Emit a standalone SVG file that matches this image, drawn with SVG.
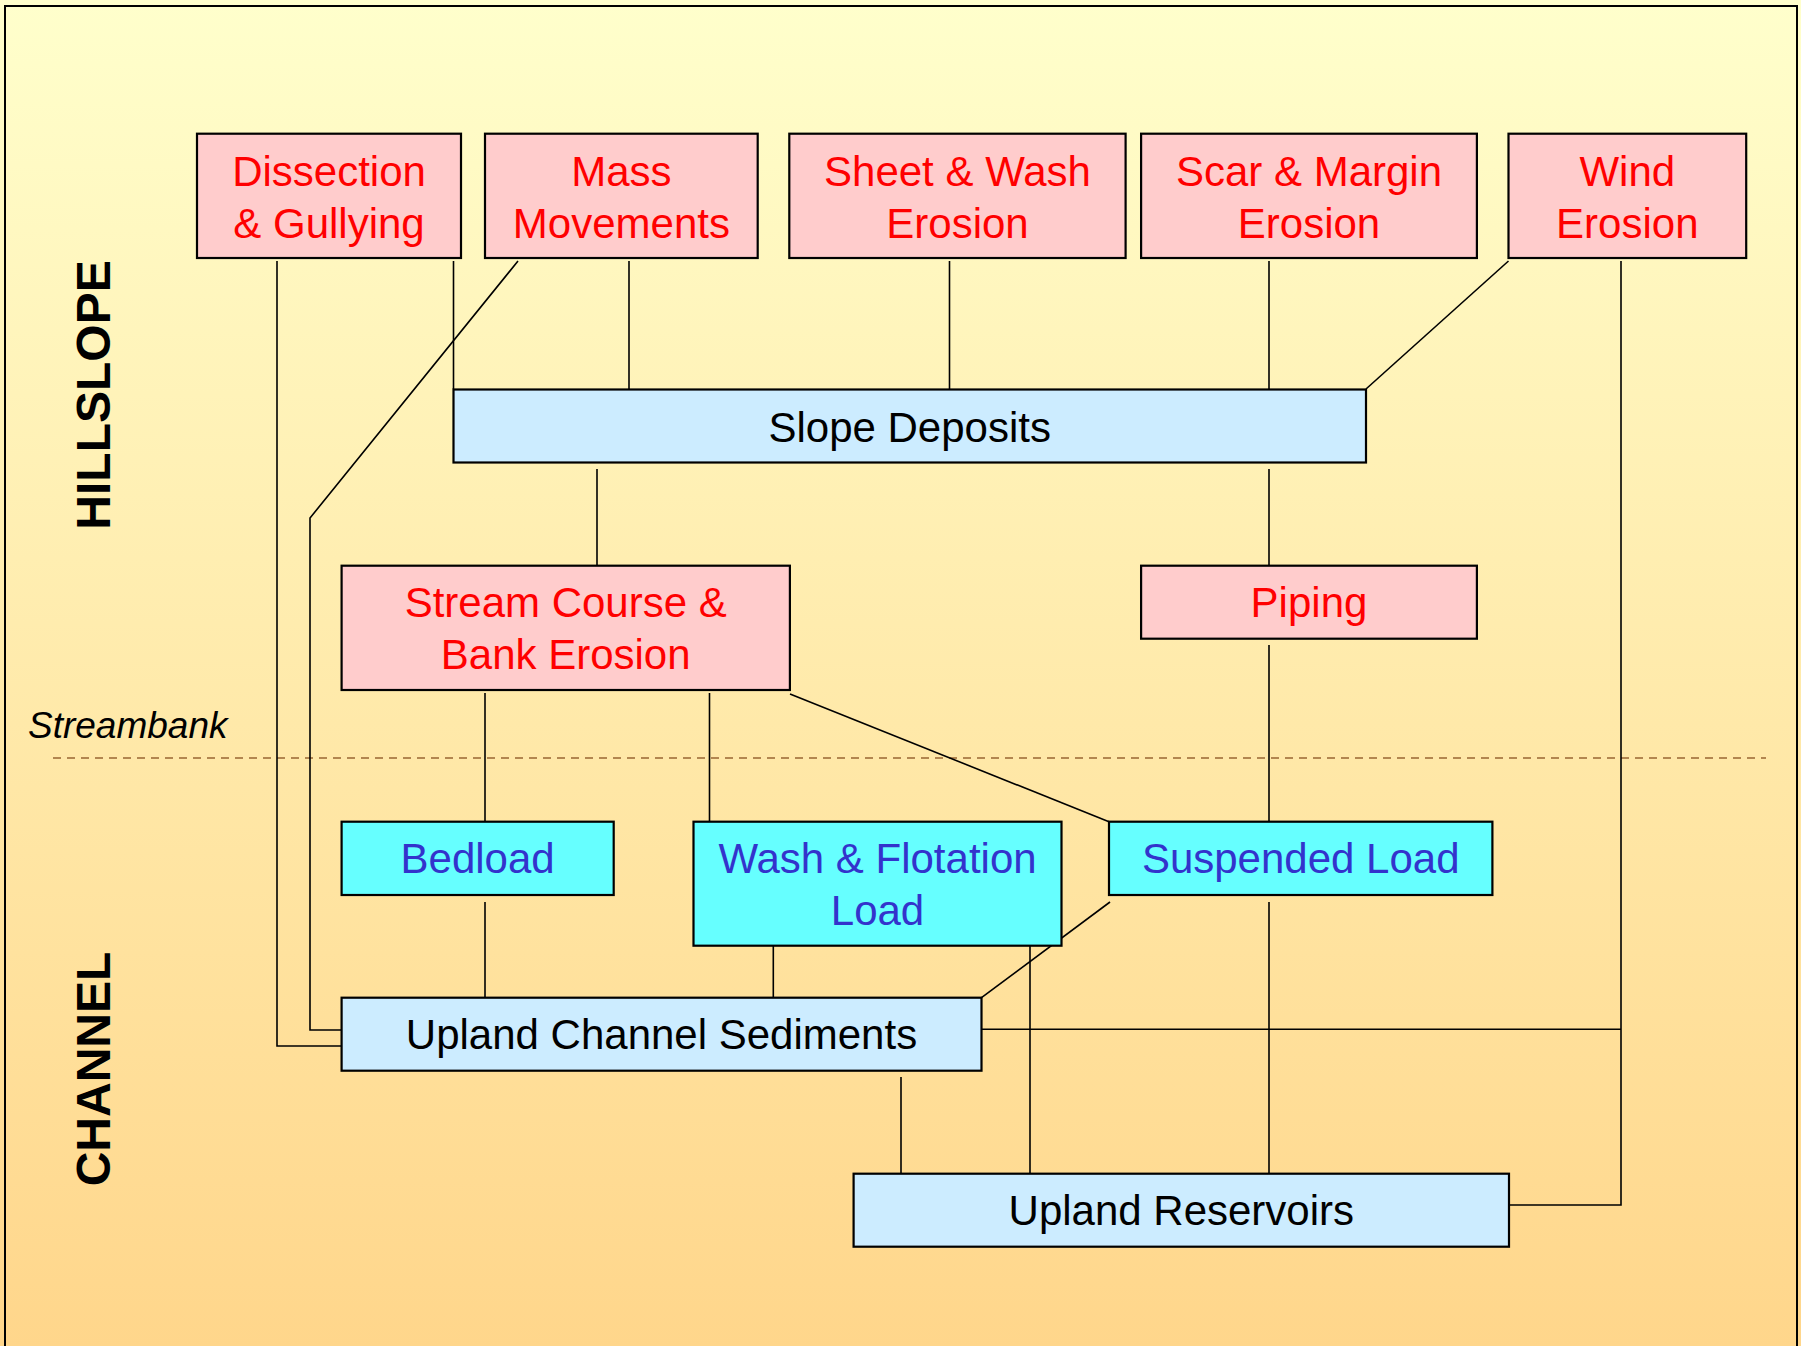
<svg xmlns="http://www.w3.org/2000/svg" width="1801" height="1346" viewBox="0 0 1801 1346">
<defs>
<linearGradient id="bg" x1="0" y1="0" x2="0" y2="1">
<stop offset="0" stop-color="#FFFFCC"/>
<stop offset="1" stop-color="#FFD68B"/>
</linearGradient>
</defs>
<style>
.box{stroke:#000;stroke-width:2.2}
.pink{fill:#FFCCCC}
.lblue{fill:#CCECFF}
.cyan{fill:#66FFFF}
.t{font-family:"Liberation Sans",Arial,sans-serif;font-size:42px;text-anchor:middle}
.red{fill:#FF0000}
.blk{fill:#000}
.blu{fill:#3333CC}
.side{font-family:"Liberation Sans",Arial,sans-serif;font-size:48px;font-weight:bold;text-anchor:middle;fill:#000}
#connectors path{fill:none;stroke:#000;stroke-width:1.6}
</style>
<rect x="0" y="0" width="1801" height="1346" fill="url(#bg)"/>
<rect x="5" y="6" width="1792" height="1360" fill="none" stroke="#000" stroke-width="2"/>

<g id="labels">
<text class="side" transform="translate(110,395) rotate(-90)">HILLSLOPE</text>
<text class="side" transform="translate(110,1069) rotate(-90)">CHANNEL</text>
<text x="28" y="738" font-family="'Liberation Sans',Arial,sans-serif" font-size="37" font-style="italic" fill="#000">Streambank</text>
<line x1="53" y1="758" x2="1766" y2="758" stroke="#996633" stroke-width="1.6" stroke-dasharray="8,6"/>
</g>

<g id="connectors">
<path d="M277,261 V1046 H341.6"/>
<path d="M453.5,261 V389"/>
<path d="M518,261 L310,518 V1030 H341.6"/>
<path d="M629,261 V389"/>
<path d="M949.5,261 V389"/>
<path d="M1269,261 V389"/>
<path d="M1508.5,261 L1366,389"/>
<path d="M1621,261 V1205 H1509"/>
<path d="M981.5,1029.3 H1621"/>
<path d="M597,469 V565.7"/>
<path d="M1269,469 V565.7"/>
<path d="M485,693 V821.7"/>
<path d="M709.5,693 V821.7"/>
<path d="M790,694 L1109,821.7"/>
<path d="M1269,645 V821.7"/>
<path d="M485,902 V997.7"/>
<path d="M773.3,945.7 V997.7"/>
<path d="M1030,945.7 V1173.7"/>
<path d="M1110,902 L981.5,997.7"/>
<path d="M1269,902 V1173.7"/>
<path d="M901,1077 V1173.7"/>
</g>

<g id="dissection">
<rect class="box pink" x="197" y="133.7" width="264" height="124.3"/>
<text class="t red" x="329" y="185.5">Dissection</text>
<text class="t red" x="329" y="237.7">&amp; Gullying</text>
</g>
<g id="mass">
<rect class="box pink" x="485" y="133.7" width="272.7" height="124.3"/>
<text class="t red" x="621.4" y="185.5">Mass</text>
<text class="t red" x="621.4" y="237.7">Movements</text>
</g>
<g id="sheet">
<rect class="box pink" x="789.3" y="133.7" width="336.3" height="124.3"/>
<text class="t red" x="957.5" y="185.5">Sheet &amp; Wash</text>
<text class="t red" x="957.5" y="237.7">Erosion</text>
</g>
<g id="scar">
<rect class="box pink" x="1141.1" y="133.7" width="335.8" height="124.3"/>
<text class="t red" x="1309" y="185.5">Scar &amp; Margin</text>
<text class="t red" x="1309" y="237.7">Erosion</text>
</g>
<g id="wind">
<rect class="box pink" x="1508.5" y="133.7" width="237.7" height="124.3"/>
<text class="t red" x="1627.3" y="185.5">Wind</text>
<text class="t red" x="1627.3" y="237.7">Erosion</text>
</g>
<g id="slope">
<rect class="box lblue" x="453.5" y="389.5" width="912.5" height="73"/>
<text class="t blk" x="909.7" y="441.7">Slope Deposits</text>
</g>
<g id="stream">
<rect class="box pink" x="341.6" y="565.7" width="448.3" height="124.3"/>
<text class="t red" x="565.7" y="617.3">Stream Course &amp;</text>
<text class="t red" x="565.7" y="669.3">Bank Erosion</text>
</g>
<g id="piping">
<rect class="box pink" x="1141.1" y="565.7" width="335.8" height="73"/>
<text class="t red" x="1309" y="617.3">Piping</text>
</g>
<g id="bedload">
<rect class="box cyan" x="341.6" y="821.7" width="272.1" height="73.3"/>
<text class="t blu" x="477.6" y="873.3">Bedload</text>
</g>
<g id="wash">
<rect class="box cyan" x="693.5" y="821.7" width="368" height="124"/>
<text class="t blu" x="877.5" y="873.3">Wash &amp; Flotation</text>
<text class="t blu" x="877.5" y="925">Load</text>
</g>
<g id="suspended">
<rect class="box cyan" x="1109" y="821.7" width="383.4" height="73.3"/>
<text class="t blu" x="1300.7" y="873.3">Suspended Load</text>
</g>
<g id="ucs">
<rect class="box lblue" x="341.6" y="997.7" width="639.9" height="73"/>
<text class="t blk" x="661.5" y="1048.8">Upland Channel Sediments</text>
</g>
<g id="reservoirs">
<rect class="box lblue" x="853.6" y="1173.7" width="655.4" height="73"/>
<text class="t blk" x="1181.3" y="1225">Upland Reservoirs</text>
</g>
</svg>
